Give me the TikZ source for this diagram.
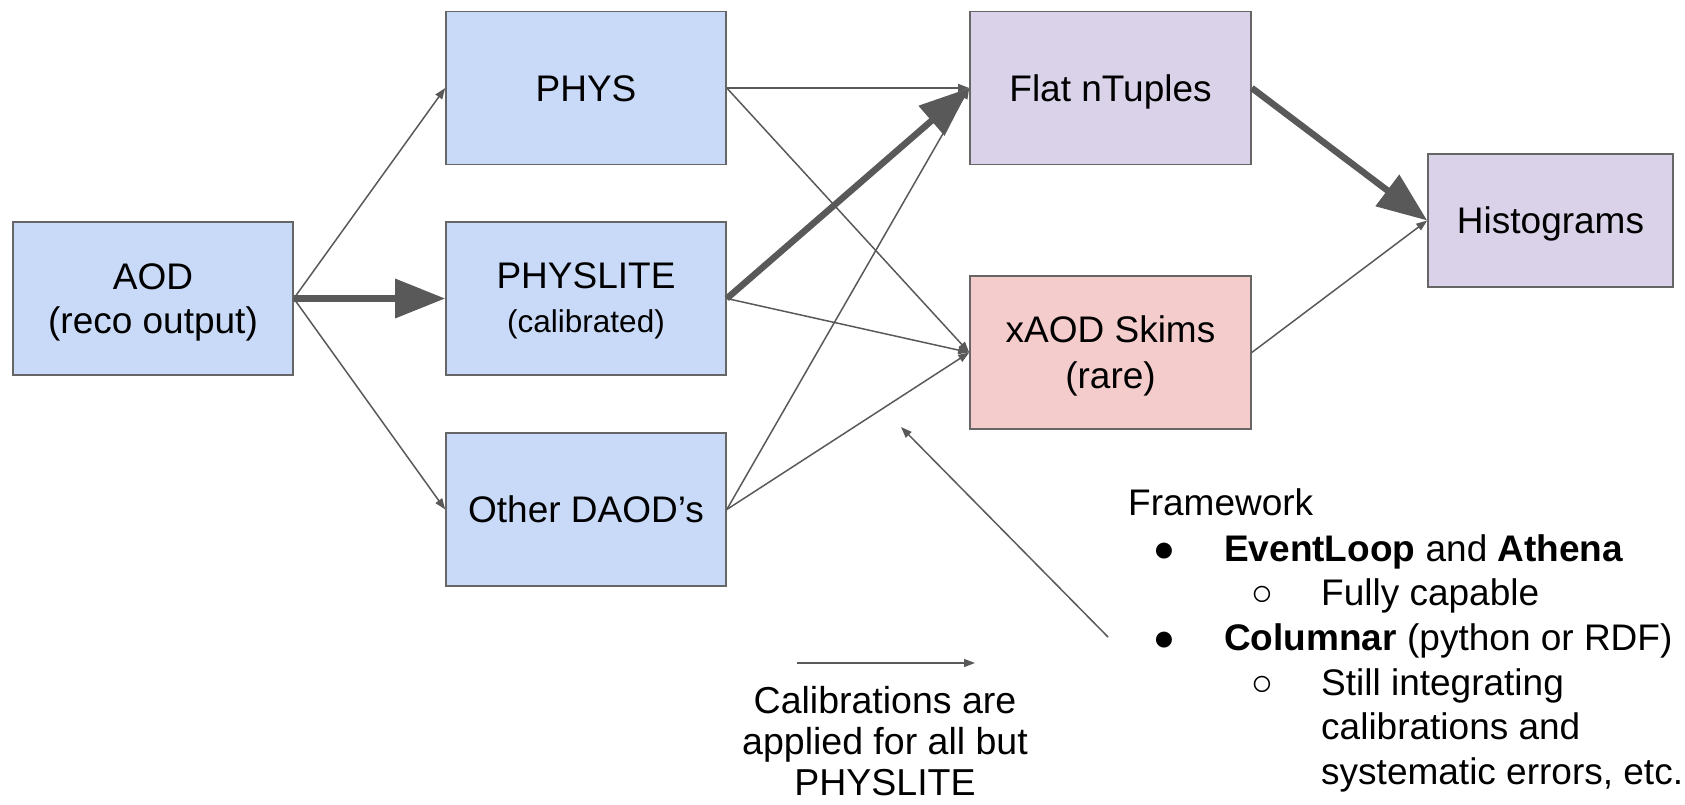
\documentclass[tikz,border=0pt]{standalone}
\usepackage{fontspec}
\setmainfont{Liberation Sans}
\usetikzlibrary{arrows.meta}

\definecolor{edgegray}{HTML}{595959}
\definecolor{boxline}{HTML}{666666}
\definecolor{bluefill}{HTML}{C9DAF8}
\definecolor{purplefill}{HTML}{D9D2E9}
\definecolor{pinkfill}{HTML}{F4CCCC}

\begin{document}
\begin{tikzpicture}[x=1pt,y=-1pt,
  box/.style={draw=boxline, line width=1.6pt, rectangle, inner sep=0pt,
    align=center, text height=26.5pt, text depth=0pt,
    minimum width=280pt, minimum height=153pt,
    font=\fontsize{37}{44}\selectfont},
  bluebox/.style={box, fill=bluefill},
  purplebox/.style={box, fill=purplefill},
  pinkbox/.style={box, fill=pinkfill},
  thinarrow/.style={draw=edgegray, line width=1.5pt,
    -{Triangle[length=11pt,width=8pt]}},
  thickarrow/.style={draw=edgegray, line width=6.5pt,
    -{Triangle[length=50pt,width=38pt]}},
  notetext/.style={inner sep=0pt, align=center, text depth=0pt,
    font=\fontsize{37.5}{41}\selectfont},
  listline/.style={anchor=base west, inner sep=0pt,
    font=\fontsize{37}{44}\selectfont},
  listmark/.style={anchor=base, inner sep=0pt,
    font=\fontsize{37}{44}\selectfont}
]
\useasboundingbox (0,0) rectangle (1685,804);

% data formats (text height of a multi-line node spans every line)
\node[bluebox, text height=70.5pt] (aod) at (153,298.5) {AOD\\(reco output)};
\node[bluebox] (phys) at (586,88) {PHYS};
\node[bluebox, text height=68.5pt] (physlite) at (586,298.5)
  {PHYSLITE\\{\fontsize{31.5}{35}\selectfont (calibrated)}};
\node[bluebox] (other) at (586,509.5) {Other DAOD’s};
\node[purplebox, minimum width=281pt] (flat) at (1110.5,88) {Flat nTuples};
\node[pinkbox, text height=72.5pt, minimum width=281pt] (skims) at (1110.5,352.5)
  {xAOD Skims\\[2pt](rare)};
\node[purplebox, minimum width=245pt, minimum height=133pt] (hist)
  at (1550.5,220.5) {Histograms};

% main flow
\draw[thickarrow] (aod.east) -- (physlite.west);
\draw[thinarrow] (aod.east) -- (phys.west);
\draw[thinarrow] (aod.east) -- (other.west);

\draw[thinarrow] (phys.east) -- (flat.west);
\draw[thinarrow] (phys.east) -- (skims.west);
\draw[thickarrow] (physlite.east) -- (flat.west);
\draw[thinarrow] (physlite.east) -- (skims.west);
\draw[thinarrow] (other.east) -- (flat.west);
\draw[thinarrow] (other.east) -- (skims.west);

\draw[thickarrow] (flat.east) -- (hist.west);
\draw[thinarrow] (skims.east) -- (hist.west);

% pointer from the framework notes
\coordinate (ptail) at (1108,637);
\coordinate (phead) at (901,427);
\draw[thinarrow] (ptail) -- (phead);

% legend for calibrated arrows
\coordinate (lega) at (797,663);
\coordinate (legb) at (975,663);
\draw[thinarrow] (lega) -- (legb);
\node[notetext, text height=108.5pt] (calib) at (885,741)
  {Calibrations are\\applied for all but\\PHYSLITE};

% framework list
\node[listline] (fw) at (1128,515) {Framework};
\node[listmark] (m1) at (1164,561) {●};
\node[listline] (t1) at (1224,561) {\textbf{EventLoop} and \textbf{Athena}};
\node[listmark] (m2) at (1262,605) {○};
\node[listline] (t2) at (1321,605) {Fully capable};
\node[listmark] (m3) at (1164,650) {●};
\node[listline] (t3) at (1224,650) {\textbf{Columnar} (python or RDF)};
\node[listmark] (m4) at (1262,695) {○};
\node[listline] (t4) at (1321,695) {Still integrating};
\node[listline] (t5) at (1321,739) {calibrations and};
\node[listline] (t6) at (1321,784) {systematic errors, etc.};
\end{tikzpicture}
\end{document}
